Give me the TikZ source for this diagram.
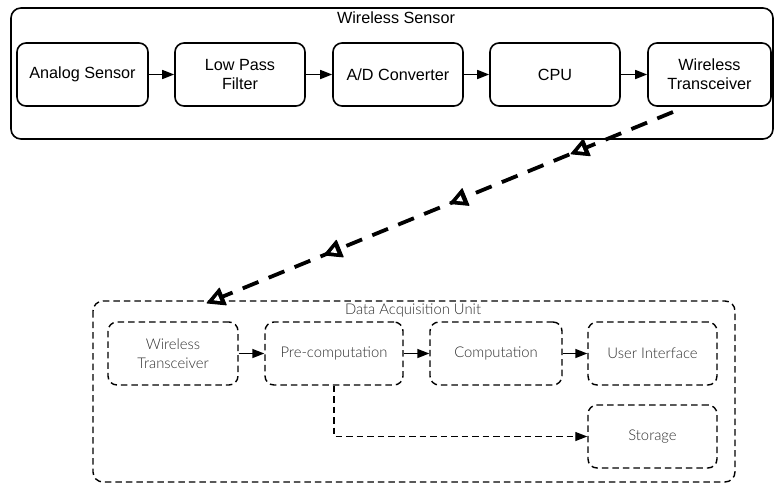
\documentclass[tikz,border=0pt]{standalone}
\usepackage{fontspec}
\setmainfont{Liberation Sans}
\newfontfamily\lightsans{Lato Light}
\usetikzlibrary{arrows.meta,decorations.markings}
\begin{document}
\begin{tikzpicture}[x=1pt,y=-1pt,
  box/.style={draw, line width=1.6pt, rounded corners=9pt, align=center,
    font=\fontsize{16.2}{19}\selectfont, inner sep=0pt, minimum height=63pt},
  dbox/.style={draw, line width=1.4pt, dash pattern=on 6.5pt off 4pt,
    rounded corners=9pt, align=center, text=black!82,
    font=\lightsans\fontsize{14.8}{19}\selectfont, inner sep=0pt, minimum height=63pt},
  flow/.style={line width=1.5pt, -{Triangle[length=12pt,width=9pt]}},
  dflow/.style={line width=1.2pt, dash pattern=on 6.5pt off 4pt, -{Triangle[length=12pt,width=9pt]}},
  linkouter/.style={solid, fill=black, draw=black, line width=1pt, line join=round},
  linkinner/.style={fill=white, draw=none},
  radio/.style={line width=3.8pt, dash pattern=on 17pt off 11pt,
    postaction={decorate},
    decoration={markings,
      mark=at position 0.215 with {\draw[linkouter] (2,0) -- (-15,9) -- (-15,-9) -- cycle;
                                   \fill[linkinner] (-5,0) -- (-11,3.3) -- (-11,-3.3) -- cycle;},
      mark=at position 0.475 with {\draw[linkouter] (2,0) -- (-15,9) -- (-15,-9) -- cycle;
                                   \fill[linkinner] (-5,0) -- (-11,3.3) -- (-11,-3.3) -- cycle;},
      mark=at position 0.745 with {\draw[linkouter] (2,0) -- (-15,9) -- (-15,-9) -- cycle;
                                   \fill[linkinner] (-5,0) -- (-11,3.3) -- (-11,-3.3) -- cycle;},
      mark=at position 1 with {\draw[linkouter] (0,0) -- (-17,9) -- (-17,-9) -- cycle;
                               \fill[linkinner] (-7,0) -- (-13,3.3) -- (-13,-3.3) -- cycle;}}},
  grouptitle/.style={font=\fontsize{16.2}{19}\selectfont, inner sep=0pt},
  dgrouptitle/.style={font=\lightsans\fontsize{14.8}{19}\selectfont, text=black!82, inner sep=0pt}
]
\useasboundingbox (0,0) rectangle (774,485);

% Wireless sensor
\draw[line width=1.6pt, rounded corners=10pt] (11,8) rectangle (773,139);
\node[grouptitle] (wstitle) at (396,18) {Wireless Sensor};
\node[box, minimum width=131pt] (as)  at (82.5,74.5) {Analog Sensor};
\node[box, minimum width=130pt] (lpf) at (240,74.5) {Low Pass\\Filter};
\node[box, minimum width=130pt] (adc) at (398,74.5) {A/D Converter};
\node[box, minimum width=130pt] (cpu) at (555,74.5) {CPU};
\node[box, minimum width=123pt] (wt)  at (709.5,74.5) {Wireless\\Transceiver};
\draw[flow] (as) -- (lpf);
\draw[flow] (lpf) -- (adc);
\draw[flow] (adc) -- (cpu);
\draw[flow] (cpu) -- (wt);

% Data acquisition unit
\draw[line width=1.4pt, dash pattern=on 6.5pt off 4pt, rounded corners=10pt] (93,301) rectangle (735,482);
\node[dgrouptitle] (dautitle) at (413,310) {Data Acquisition Unit};
\node[dbox, minimum width=130pt] (dwt)  at (173,353.5) {Wireless\\Transceiver};
\node[dbox, minimum width=138pt] (pre)  at (334,353.5) {Pre-computation};
\node[dbox, minimum width=132pt] (comp) at (496,353.5) {Computation};
\node[dbox, minimum width=129pt] (ui)   at (652.5,353.5) {User Interface};
\node[dbox, minimum width=129pt] (st)   at (652.5,436.5) {Storage};
\draw[flow] (dwt) -- (pre);
\draw[flow] (pre) -- (comp);
\draw[flow] (comp) -- (ui);
\draw[dflow] (pre.south) |- (st.west);

% Radio link
\coordinate (txout) at (673,112);
\coordinate (rxin) at (207,303);
\draw[radio] (txout) -- (rxin);
\end{tikzpicture}
\end{document}
